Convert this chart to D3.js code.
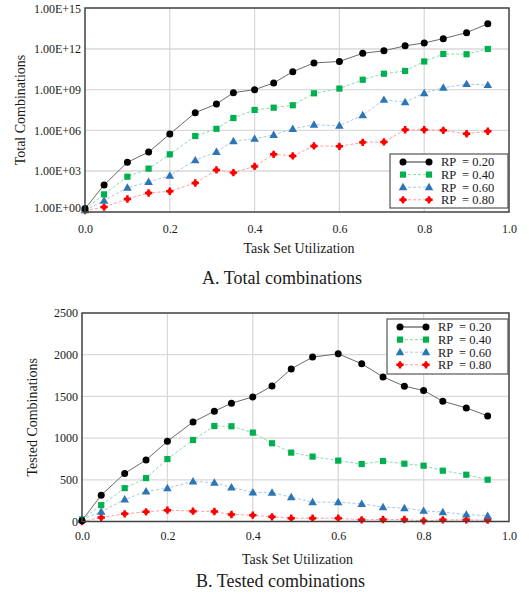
<!DOCTYPE html>
<html>
<head>
<meta charset="utf-8">
<script src="https://cdn.jsdelivr.net/npm/d3@7"></script>
<style>
	body { margin: 0; background: #fff; }
	svg text { font-family: 'Liberation Serif', 'Times New Roman', serif; }
</style>
</head>
<body>
<svg id="chart" width="529" height="594"></svg>
<script>
const translate = (x, y) => `translate(${x}, ${y})`;

// Data
const utilization = [0, 0.045, 0.1, 0.15, 0.2, 0.26, 0.31, 0.35, 0.4, 0.445, 0.49, 0.54, 0.6, 0.655, 0.705, 0.755, 0.8, 0.845, 0.9, 0.95];
const rpLabels = ['RP  = 0.20', 'RP  = 0.40', 'RP  = 0.60', 'RP  = 0.80'];

const totalRp20 = [1.7, 93, 4.4e3, 2.5e4, 5.4e5, 2.0e7, 8.7e7, 6.0e8, 1.0e9, 3.1e9, 2.1e10, 9.3e10, 1.2e11, 4.8e11, 7.4e11, 1.7e12, 2.8e12, 5.8e12, 1.6e13, 7.2e13];
const totalRp40 = [1.5, 19, 380, 1.5e3, 1.7e4, 3.8e5, 1.3e6, 8.1e6, 3.2e7, 4.7e7, 7.1e7, 5.4e8, 1.2e9, 5.4e9, 1.5e10, 2.4e10, 1.2e11, 4.3e11, 4.1e11, 1.0e12];
const totalRp60 = [1.3, 6.5, 59, 160, 450, 6.2e3, 2.6e4, 1.6e5, 2.4e5, 4.6e5, 1.3e6, 2.6e6, 2.2e6, 1.3e7, 1.8e8, 1.2e8, 5.6e8, 1.4e9, 2.6e9, 2.2e9];
const totalRp80 = [1.2, 2.2, 8.7, 24, 32, 130, 1.2e3, 760, 2.2e3, 1.7e4, 1.3e4, 7.1e4, 6.6e4, 1.3e5, 1.4e5, 1.1e6, 1.1e6, 1.0e6, 5.6e5, 8.5e5];

const testedRp20 = [10, 316, 577, 737, 962, 1193, 1322, 1418, 1494, 1626, 1830, 1971, 2011, 1891, 1734, 1623, 1571, 1442, 1362, 1266];
const testedRp40 = [24, 196, 400, 520, 749, 977, 1145, 1142, 1066, 938, 826, 778, 730, 689, 725, 693, 669, 609, 561, 501];
const testedRp60 = [24, 117, 264, 361, 400, 481, 465, 409, 349, 345, 292, 232, 232, 212, 172, 160, 129, 112, 84, 68];
const testedRp80 = [0, 48, 92, 116, 136, 124, 120, 84, 76, 56, 40, 40, 40, 20, 24, 24, 8, 20, 20, 16];

const xTicks = [0, 0.2, 0.4, 0.6, 0.8, 1.0];
const totalTicks = [1e0, 1e3, 1e6, 1e9, 1e12, 1e15];
const totalTickLabels = ['1.00E+00', '1.00E+03', '1.00E+06', '1.00E+09', '1.00E+12', '1.00E+15'];
const testedTicks = [0, 500, 1000, 1500, 2000, 2500];

// Series styles
const SERIES_STYLES = [
	{ marker: 'circle', fill: '#000000', line: '#6b6b6b', dash: null },
	{ marker: 'square', fill: '#00b050', line: '#8fd9a8', dash: '3,2' },
	{ marker: 'triangle', fill: '#2e75b6', line: '#a9c8e8', dash: '3,2' },
	{ marker: 'plus', fill: '#ff0000', line: '#ff9f9f', dash: '3,2' },
];

const GRID_COLOR = '#d9d9d9';
const FRAME_COLOR = '#404040';
const TEXT_COLOR = '#1a1a1a';
const SERIF = "'Liberation Serif', 'Times New Roman', serif";

const svg = d3.select('#chart');

const drawMarker = (g, style, x, y) => {
	if (style.marker === 'circle') {
		g.append('circle').attr('cx', x).attr('cy', y).attr('r', 3.5).attr('fill', style.fill);
	} else if (style.marker === 'square') {
		g.append('rect').attr('x', x - 3.1).attr('y', y - 3.1).attr('width', 6.2).attr('height', 6.2).attr('fill', style.fill);
	} else if (style.marker === 'triangle') {
		g.append('path').attr('d', d3.symbol(d3.symbolTriangle, 32)()).attr('transform', translate(x, y + 0.6)).attr('fill', style.fill);
	} else {
		g.append('path').attr('d', d3.symbol(d3.symbolCross, 30)()).attr('transform', translate(x, y)).attr('fill', style.fill);
		g.append('circle').attr('cx', x).attr('cy', y).attr('r', 2.5).attr('fill', style.fill);
	}
};

const styleText = sel => sel
	.style('font-family', SERIF)
	.attr('fill', TEXT_COLOR);

const drawPanel = (cfg) => {
	const { left, right, top, bottom, yScale, yTicks, yTickFormat, series, yTitle, yTitleX, title, tickLabelY, xTitleY, titleY, legend, firstLabelShift } = cfg;
	const xScale = d3.scaleLinear().domain([0, 1]).range([left, right]);
	const g = svg.append('g');

	// grid
	const grid = g.append('g');
	grid.selectAll('line.v')
		.data(xTicks.slice(1, -1))
		.enter()
		.append('line')
		.attr('x1', d => xScale(d)).attr('x2', d => xScale(d))
		.attr('y1', top).attr('y2', bottom)
		.attr('stroke', GRID_COLOR).attr('stroke-width', 1.3);
	grid.selectAll('line.h')
		.data(yTicks.slice(1, -1))
		.enter()
		.append('line')
		.attr('x1', left).attr('x2', right)
		.attr('y1', d => yScale(d)).attr('y2', d => yScale(d))
		.attr('stroke', GRID_COLOR).attr('stroke-width', 1.3);

	// series lines, then markers
	series.forEach((values, i) => {
		const style = SERIES_STYLES[i];
		const line = d3.line()
			.x((_, j) => xScale(utilization[j]))
			.y(v => yScale(v));
		g.append('path')
			.datum(values)
			.attr('d', line)
			.attr('fill', 'none')
			.attr('stroke', style.line)
			.attr('stroke-width', 1)
			.attr('stroke-dasharray', style.dash);
	});
	series.slice().reverse().forEach((values, k) => {
		const i = series.length - 1 - k;
		const mg = g.append('g');
		values.forEach((v, j) => drawMarker(mg, SERIES_STYLES[i], xScale(utilization[j]), yScale(v)));
	});

	// frame
	g.append('rect')
		.attr('x', left).attr('y', top)
		.attr('width', right - left).attr('height', bottom - top)
		.attr('fill', 'none')
		.attr('stroke', FRAME_COLOR).attr('stroke-width', 1.5);

	// x axis labels
	const xAxis = d3.axisBottom(xScale).tickValues(xTicks).tickFormat(d3.format('.1f')).tickSize(0).tickPadding(0);
	const xg = g.append('g').attr('transform', translate(0, tickLabelY)).call(xAxis);
	xg.select('.domain').remove();
	xg.selectAll('text').attr('font-size', 12).call(styleText);

	// y axis labels
	const yAxis = d3.axisLeft(yScale).tickValues(yTicks).tickFormat(yTickFormat).tickSize(0).tickPadding(4);
	const yg = g.append('g').attr('transform', translate(left, 0)).call(yAxis);
	yg.select('.domain').remove();
	yg.selectAll('text').attr('font-size', 12).call(styleText);
	yg.selectAll('text').filter((d, i) => i === 0).attr('y', -firstLabelShift);

	// titles
	g.append('text')
		.attr('x', (left + right) / 2 + 2).attr('y', xTitleY)
		.attr('text-anchor', 'middle')
		.attr('font-size', 14)
		.call(styleText)
		.text('Task Set Utilization');
	g.append('text')
		.attr('transform', `${translate(yTitleX, (top + bottom) / 2)} rotate(-90)`)
		.attr('text-anchor', 'middle')
		.attr('font-size', 14)
		.call(styleText)
		.text(yTitle);
	g.append('text')
		.attr('x', (left + right) / 2 - 15).attr('y', titleY)
		.attr('text-anchor', 'middle')
		.attr('font-size', 18)
		.call(styleText)
		.text(title);

	// legend
	const lg = g.append('g');
	lg.append('rect')
		.attr('x', legend.x).attr('y', legend.y)
		.attr('width', legend.w).attr('height', legend.h)
		.attr('fill', '#fff')
		.attr('stroke', '#555').attr('stroke-width', 1.2);
	rpLabels.forEach((label, i) => {
		const style = SERIES_STYLES[i];
		const rowY = legend.y + 8 + i * 12.6;
		const x1 = legend.x + 13;
		const x2 = legend.x + 39;
		lg.append('line')
			.attr('x1', x1).attr('x2', x2).attr('y1', rowY).attr('y2', rowY)
			.attr('stroke', i === 0 ? '#333' : style.line)
			.attr('stroke-width', 1)
			.attr('stroke-dasharray', style.dash);
		drawMarker(lg, style, x1, rowY);
		drawMarker(lg, style, x2, rowY);
		lg.append('text')
			.attr('x', legend.x + 51).attr('y', rowY + 4.3)
			.attr('font-size', 12.5)
			.call(styleText)
			.style('white-space', 'pre')
			.text(label);
	});
};

// A. Total combinations
const totalScale = d3.scaleLog().domain([1, 1e15]).range([211.7, 8.3]);
drawPanel({
	left: 85, right: 509, top: 8, bottom: 212,
	yScale: totalScale,
	yTicks: totalTicks,
	yTickFormat: (d, i) => totalTickLabels[i],
	series: [totalRp20, totalRp40, totalRp60, totalRp80],
	yTitle: 'Total Combinations',
	yTitleX: 25,
	title: 'A. Total combinations',
	tickLabelY: 224,
	xTitleY: 253,
	titleY: 284,
	legend: { x: 390, y: 154, w: 118, h: 54 },
	firstLabelShift: 4,
});

// B. Tested combinations
const testedScale = d3.scaleLinear().domain([0, 2500]).range([521.5, 313]);
drawPanel({
	left: 82, right: 509, top: 313, bottom: 521.5,
	yScale: testedScale,
	yTicks: testedTicks,
	yTickFormat: d3.format('d'),
	series: [testedRp20, testedRp40, testedRp60, testedRp80],
	yTitle: 'Tested Combinations',
	yTitleX: 37,
	title: 'B. Tested combinations',
	tickLabelY: 531,
	xTitleY: 564,
	titleY: 587,
	legend: { x: 387, y: 319, w: 121, h: 55 },
	firstLabelShift: 0,
});
</script>
</body>
</html>
